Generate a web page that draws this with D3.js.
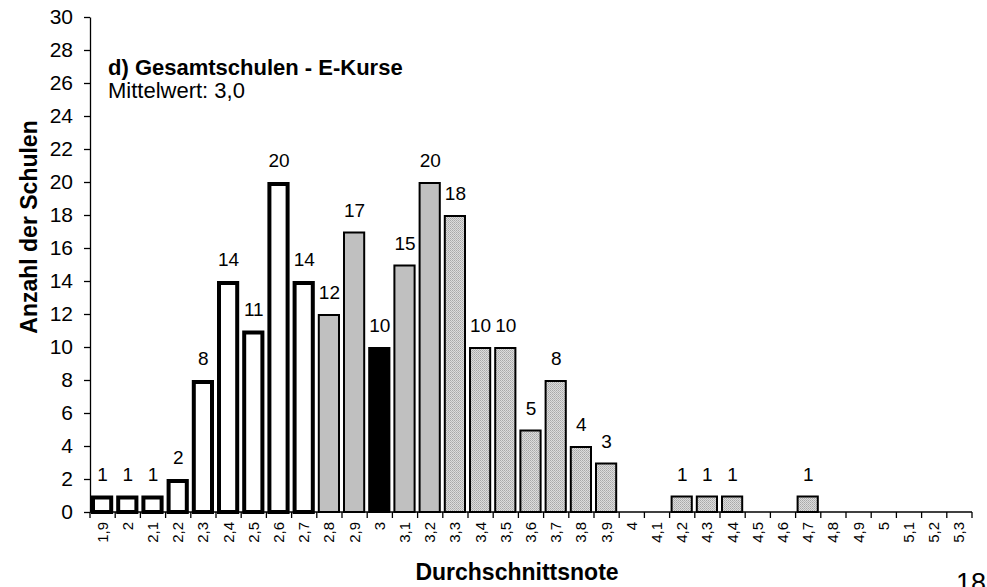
<!DOCTYPE html>
<html><head><meta charset="utf-8">
<script src="https://cdn.jsdelivr.net/npm/d3@7"></script>
<style>body{margin:0;background:#fff}svg{display:block;font-family:"Liberation Sans",Arial,sans-serif}</style>
</head><body>
<svg id="c" width="987" height="587"></svg>
<script>
const categories = ["1,9","2","2,1","2,2","2,3","2,4","2,5","2,6","2,7","2,8","2,9","3","3,1","3,2","3,3","3,4","3,5","3,6","3,7","3,8","3,9","4","4,1","4,2","4,3","4,4","4,5","4,6","4,7","4,8","4,9","5","5,1","5,2","5,3"];
const values = [1,1,1,2,8,14,11,20,14,12,17,10,15,20,18,10,10,5,8,4,3,0,0,1,1,1,0,0,1,0,0,0,0,0,0];
// group: 0 = white/thick, 1 = gray, 2 = black (mean), 3 = dotted gray
const groups = [0,0,0,0,0,0,0,0,0,1,1,2,1,1,3,3,3,3,3,3,3,3,3,3,3,3,3,3,3,3,3,3,3,3,3];
const yTicks = [0,2,4,6,8,10,12,14,16,18,20,22,24,26,28,30];
const title = "d) Gesamtschulen - E-Kurse";
const subtitle = "Mittelwert: 3,0";
const yTitle = "Anzahl der Schulen";
const xTitle = "Durchschnittsnote";
const pageNo = "18";

const svg = d3.select("#c");
const m = {l:90, r:15, t:17, b:75};
const W = 987, H = 587;
const xb = d3.scaleBand().domain(categories).range([m.l, W - m.r]);
const y = d3.scaleLinear().domain([0,30]).range([H - m.b, m.t]);

const defs = svg.append("defs");
const pat = defs.append("pattern").attr("id","dots").attr("width",2).attr("height",2).attr("patternUnits","userSpaceOnUse");
pat.append("rect").attr("width",2).attr("height",2).attr("fill","#dcdcdc");
pat.append("rect").attr("width",1).attr("height",1).attr("fill","#a8a8a8");
pat.append("rect").attr("x",1).attr("y",1).attr("width",1).attr("height",1).attr("fill","#b8b8b8");

const fills = ["#ffffff","#c0c0c0","#000000","url(#dots)"];
const sw = [4,2,2,2];

const data = categories.map((c,i)=>({c, v: values[i], g: groups[i]}));

svg.selectAll("rect.bar").data(data.filter(d=>d.v>0)).join("rect")
  .attr("class","bar")
  .attr("x", d => xb(d.c) + 1 + sw[d.g]/2)
  .attr("width", d => xb.bandwidth() - 3 - sw[d.g])
  .attr("y", d => y(d.v) + sw[d.g]/2)
  .attr("height", d => y(0) - y(d.v) - sw[d.g]/2)
  .attr("fill", d => fills[d.g])
  .attr("stroke", "#000")
  .attr("stroke-width", d => sw[d.g]);

// value labels
svg.selectAll("text.val").data(data.filter(d=>d.v>0)).join("text")
  .attr("class","val")
  .attr("x", d => xb(d.c) + xb.bandwidth()/2)
  .attr("y", d => y(d.v) - 15)
  .attr("text-anchor","middle")
  .attr("font-size", 19)
  .text(d => d.v);

// y axis
const ya = svg.append("g").attr("transform",`translate(${m.l},0)`)
  .call(d3.axisLeft(y).tickValues(yTicks).tickSize(6).tickPadding(11).tickSizeOuter(0));
ya.select(".domain").attr("stroke","#000").attr("stroke-width",1.3);
ya.selectAll(".tick line").attr("stroke","#000").attr("stroke-width",1.3);
ya.selectAll(".tick text").attr("font-size",21).attr("font-family","Liberation Sans, Arial, sans-serif").attr("fill","#000");

// x axis: line + ticks at category boundaries
const xa = svg.append("g");
xa.append("line").attr("x1",m.l).attr("x2",W-m.r).attr("y1",y(0)).attr("y2",y(0)).attr("stroke","#000").attr("stroke-width",1.3);
const bounds = categories.map(c=>xb(c)).concat([W-m.r]);
xa.selectAll("line.t").data(bounds).join("line").attr("class","t")
  .attr("x1",d=>d).attr("x2",d=>d).attr("y1",y(0)).attr("y2",y(0)+6).attr("stroke","#000").attr("stroke-width",1.3);
xa.selectAll("text.xl").data(categories).join("text").attr("class","xl")
  .attr("transform", c => `translate(${xb(c)+xb.bandwidth()/2+5},${y(0)+10}) rotate(-90)`)
  .attr("text-anchor","end")
  .attr("font-size",15)
  .text(c=>c);

// titles
svg.append("text").attr("x",108).attr("y",75).attr("font-size",22).attr("font-weight","bold").text(title);
svg.append("text").attr("x",108).attr("y",98).attr("font-size",22).text(subtitle);
svg.append("text").attr("transform",`translate(37,227) rotate(-90)`).attr("text-anchor","middle")
  .attr("font-size",23).attr("font-weight","bold").text(yTitle);
svg.append("text").attr("x",517).attr("y",580).attr("text-anchor","middle")
  .attr("font-size",23).attr("font-weight","bold").text(xTitle);
svg.append("text").attr("x",956).attr("y",592).attr("font-size",27).text(pageNo);
</script>
</body></html>
